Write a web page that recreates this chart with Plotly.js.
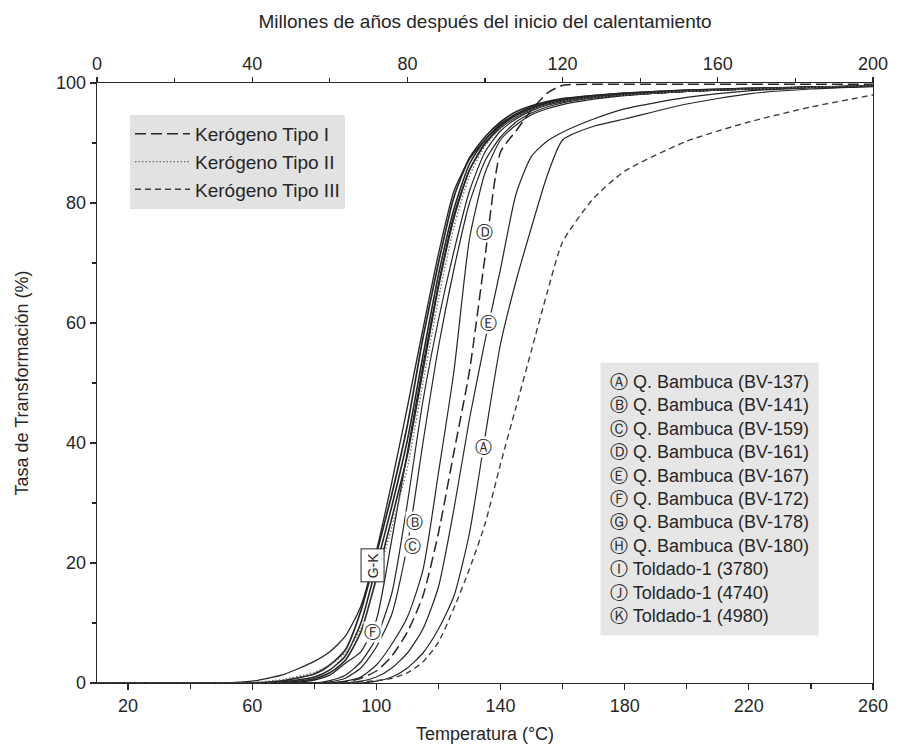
<!DOCTYPE html>
<html>
<head>
<meta charset="utf-8">
<script src="https://cdn.plot.ly/plotly-3.0.1.min.js"></script>
<style>html,body{margin:0;padding:0;background:#fff}</style>
</head>
<body>
<div id="chart" style="width:898px;height:749px"></div>
<script>
// Temperature grid (°C)
const temps = [10, 50, 60, 70, 80, 85, 90, 95, 100, 105, 110, 115, 120, 125, 130, 135, 140, 145, 150, 155, 160, 170, 180, 200, 220, 240, 260];

// Transformation ratio (%) of each curve
const curveK = [0, 0, 0.3, 1.4, 3.6, 5.2, 7.8, 12.8, 22, 33.5, 46, 59, 71.5, 82, 87.3, 90.5, 93.2, 94.8, 95.9, 96.6, 97.1, 97.7, 98.1, 98.7, 99.0, 99.3, 99.5];
const curveJ = [0, 0, 0, 0.4, 1.5, 3, 5.5, 12, 21.5, 31.5, 43, 57.5, 70, 81, 87.5, 91, 93.5, 95.2, 96.2, 96.9, 97.4, 97.9, 98.3, 98.8, 99.1, 99.3, 99.5];
const curveI = [0, 0, 0, 0.2, 1.0, 2.2, 4.5, 10, 19.5, 29.5, 40.5, 54.5, 68, 79, 86.5, 90.5, 93, 94.8, 96, 96.8, 97.3, 97.9, 98.3, 98.8, 99.1, 99.3, 99.5];
const curveG = [0, 0, 0, 0.1, 0.7, 1.7, 3.8, 8.5, 17.5, 27.5, 38, 52, 66, 77.5, 85.5, 90, 92.8, 94.6, 95.8, 96.6, 97.1, 97.7, 98.1, 98.7, 99, 99.3, 99.5];
const curveH = [0, 0, 0.1, 0.6, 1.8, 3, 5, 9, 17, 26, 36, 50, 64, 76, 84.5, 89.5, 92.5, 94.3, 95.6, 96.4, 97, 97.6, 98, 98.6, 99, 99.3, 99.6];
const curveF = [0, 0, 0, 0, 0.5, 1.3, 3.3, 5.2, 10.5, 24, 38.5, 53, 66.5, 78, 85.5, 89.8, 92.5, 94.3, 95.6, 96.4, 97, 97.6, 98, 98.6, 99, 99.3, 99.5];
const curveB = [0, 0, 0, 0, 0, 0.4, 1.3, 3.5, 7.5, 15, 30, 47, 60.5, 72, 82, 88.5, 92, 94, 95.4, 96.3, 96.9, 97.6, 98, 98.6, 99, 99.3, 99.5];
const curveC = [0, 0, 0, 0, 0, 0.2, 0.8, 2.5, 6, 11.5, 23, 40, 56, 69, 80, 87, 91, 93.5, 95, 96, 96.7, 97.5, 98, 98.6, 99, 99.3, 99.5];
const curveX = [0, 0, 0, 0, 0, 0, 0.3, 1, 3, 6.5, 11, 18.8, 35, 52, 74, 85, 90.5, 93, 94.7, 95.7, 96.4, 97.3, 97.9, 98.6, 99, 99.3, 99.5];
const curveD = [0, 0, 0, 0, 0, 0, 0.2, 0.8, 2, 4.5, 8.5, 14.5, 25, 38.5, 52, 71, 88.5, 92, 95.5, 98.3, 99.6, 99.8, 99.8, 99.8, 99.8, 99.8, 99.8];
const curveE = [0, 0, 0, 0, 0, 0, 0, 0.3, 1, 2.5, 5, 9, 16, 29, 44, 57, 69, 81.5, 87.8, 90.3, 91.8, 94, 95.7, 97.6, 98.7, 99.2, 99.5];
const curveA = [0, 0, 0, 0, 0, 0, 0, 0, 0.3, 1, 2.5, 5, 9, 14.5, 25, 41, 56.5, 67, 76, 84.5, 90.5, 92.8, 94, 96.5, 98.2, 99, 99.4];
const curveIII = [0, 0, 0, 0, 0, 0, 0, 0.2, 0.4, 0.8, 1.7, 3.5, 6.8, 12.5, 19, 26.5, 36.5, 46, 55.5, 65, 73.5, 80.8, 85.3, 90.3, 93.5, 96, 98];

// Axis ticks
const tempTicks = [20, 60, 100, 140, 180, 220, 260];
const yearTicks = [0, 40, 80, 120, 160, 200];
const yTicks = [0, 20, 40, 60, 80, 100];

// Legend texts
const kerogenNames = ['Kerógeno Tipo I', 'Kerógeno Tipo II', 'Kerógeno Tipo III'];
const sampleLetters = ['Ⓐ', 'Ⓑ', 'Ⓒ', 'Ⓓ', 'Ⓔ', 'Ⓕ', 'Ⓖ', 'Ⓗ', 'Ⓘ', 'Ⓙ', 'Ⓚ'];
const sampleNames = ['Q. Bambuca (BV-137)', 'Q. Bambuca (BV-141)', 'Q. Bambuca (BV-159)', 'Q. Bambuca (BV-161)',
  'Q. Bambuca (BV-167)', 'Q. Bambuca (BV-172)', 'Q. Bambuca (BV-178)', 'Q. Bambuca (BV-180)',
  'Toldado-1 (3780)', 'Toldado-1 (4740)', 'Toldado-1 (4980)'];

const FONT = 'Liberation Sans, Arial, Helvetica, sans-serif';
const INK = '#262626';

function solid(y, w) {
  return {x: temps, y: y, type: 'scatter', mode: 'lines', showlegend: false, hoverinfo: 'skip',
    line: {color: INK, width: w || 1.3, shape: 'spline', smoothing: 0.6}};
}

const traces = [
  solid(curveA, 1.2), solid(curveE, 1.2), solid(curveX, 1.2), solid(curveC, 1.2), solid(curveB, 1.2),
  solid(curveF, 1.3), solid(curveG, 1.6), solid(curveI, 1.6), solid(curveJ, 1.7), solid(curveK, 1.3),
  {x: temps, y: curveD, type: 'scatter', mode: 'lines', name: kerogenNames[0], legendrank: 1, legendgroup: 'g1',
    hoverinfo: 'skip', line: {color: INK, width: 1.5, dash: '11px,5px', shape: 'spline', smoothing: 0.6}},
  {x: temps, y: curveH, type: 'scatter', mode: 'lines', name: kerogenNames[1], legendrank: 2, legendgroup: 'g2',
    hoverinfo: 'skip', line: {color: '#6a6a6a', width: 1.3, dash: '1.5px,2px', shape: 'spline', smoothing: 0.6}},
  {x: temps, y: curveIII, type: 'scatter', mode: 'lines', name: kerogenNames[2], legendrank: 3, legendgroup: 'g3',
    hoverinfo: 'skip', line: {color: '#404040', width: 1.4, dash: '6px,4px', shape: 'spline', smoothing: 0.6}},
  // helper for the top (time) axis
  {x: yearTicks, y: yearTicks.map(() => null), xaxis: 'x2', type: 'scatter', mode: 'lines', showlegend: false, hoverinfo: 'skip'}
];

function label(text, x, y, extra) {
  return Object.assign({x: x, y: y, xref: 'x', yref: 'y', text: text, showarrow: false,
    font: {family: 'DejaVu Sans, sans-serif', size: 17, color: INK}, bgcolor: 'rgba(255,255,255,0.95)', borderpad: 0}, extra || {});
}

const legendLines = sampleLetters.map((l, i) => l + ' ' + sampleNames[i]).join('<br>');

const annotations = [
  label('Ⓐ', 134.4, 39.3), label('Ⓑ', 112.4, 26.9), label('Ⓒ', 111.8, 22.9),
  label('Ⓓ', 134.7, 75.2), label('Ⓔ', 136, 60), label('Ⓕ', 98.6, 8.5),
  label('G-K', 98.9, 19.6, {textangle: -90, font: {family: FONT, size: 14, color: INK}, bordercolor: INK, borderwidth: 1, borderpad: 3}),
  {xref: 'paper', yref: 'paper', x: (600 - 97) / 776, y: (683 - 362) / 600, xanchor: 'left', yanchor: 'top',
    text: legendLines, align: 'left', showarrow: false, bgcolor: '#e6e6e6', borderpad: 9,
    font: {family: FONT, size: 18, color: INK}}
];

const axisCommon = {
  showline: true, linecolor: INK, linewidth: 1.3, ticks: 'outside', tickcolor: INK, ticklen: 6, tickwidth: 1.2,
  showgrid: false, zeroline: false, tickfont: {family: FONT, size: 18, color: INK}
};

const layout = {
  width: 898, height: 749,
  margin: {l: 97, r: 25, t: 83, b: 66},
  paper_bgcolor: '#ffffff', plot_bgcolor: '#ffffff',
  font: {family: FONT, color: INK},
  showlegend: true,
  legend: {x: (130 - 97) / 776, y: (683 - 115) / 600, xanchor: 'left', yanchor: 'top', bgcolor: '#e2e2e2',
    font: {family: FONT, size: 19, color: INK}, traceorder: 'grouped', tracegroupgap: 0, itemwidth: 55},
  xaxis: Object.assign({}, axisCommon, {range: [10, 260], tickmode: 'array', tickvals: tempTicks,
    minor: {tickvals: [40, 80, 120, 160, 200, 240], ticks: 'outside', ticklen: 5, tickcolor: INK},
    title: {text: 'Temperatura (°C)', font: {family: FONT, size: 18, color: INK}, standoff: 12}}),
  xaxis2: Object.assign({}, axisCommon, {range: [0, 200], overlaying: 'x', side: 'top', tickmode: 'array', tickvals: yearTicks,
    ticklen: 5, minor: {tickvals: [20, 60, 100, 140, 180], ticks: 'outside', ticklen: 4, tickcolor: INK},
    title: {text: 'Millones de años después del inicio del calentamiento', font: {family: FONT, size: 19, color: INK}, standoff: 20}}),
  yaxis: Object.assign({}, axisCommon, {range: [0, 100], tickmode: 'array', tickvals: yTicks, mirror: true,
    minor: {tickvals: [10, 30, 50, 70, 90], ticks: 'outside', ticklen: 4, tickcolor: INK},
    title: {text: 'Tasa de Transformación (%)', font: {family: FONT, size: 18, color: INK}, standoff: 22}}),
  annotations: annotations
};

Plotly.newPlot('chart', traces, layout, {displayModeBar: false, staticPlot: true});
</script>
</body>
</html>
